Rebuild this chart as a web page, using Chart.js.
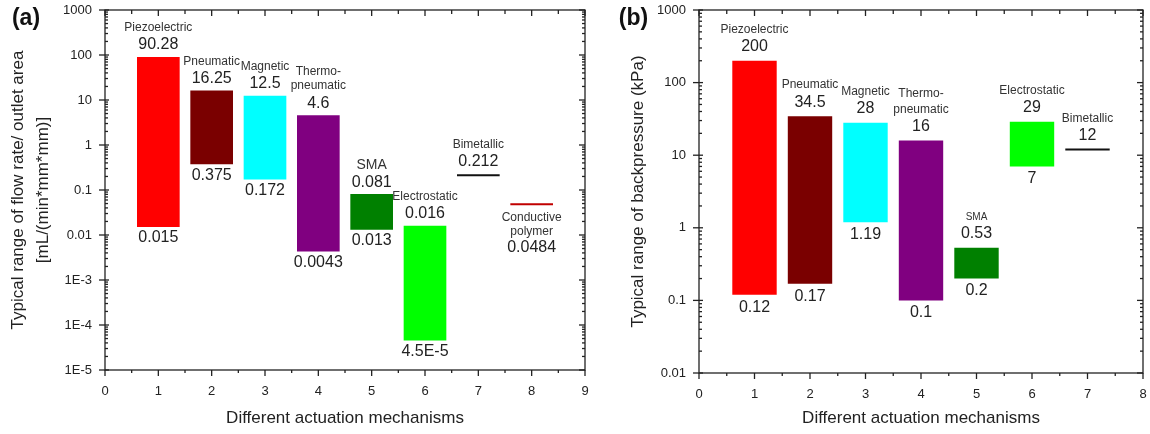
<!DOCTYPE html>
<html><head><meta charset="utf-8">
<script src="https://cdn.jsdelivr.net/npm/chart.js@4.4.1/dist/chart.umd.min.js"></script>
<style>
html,body{margin:0;padding:0;background:#fff;}
#wrap{position:relative;width:1150px;height:434px;overflow:hidden;background:#fff;}
#ca{position:absolute;left:0;top:0;}
#cb{position:absolute;left:600px;top:0;}
</style></head><body>
<div id="wrap"><canvas id="ca" width="600" height="434"></canvas><canvas id="cb" width="550" height="434"></canvas></div>
<script>
// ---------- DATA: panel (a) flow rate per outlet area ----------
const mechanismsA = ['Piezoelectric','Pneumatic','Magnetic','Thermo-\npneumatic','SMA','Electrostatic','Bimetallic','Conductive\npolymer'];
const positionsA  = [1,2,3,4,5,6,7,8];
const lowA        = [0.015,0.375,0.172,0.0043,0.013,4.5e-5,0.212,0.0484];
const highA       = [90.28,16.25,12.5,4.6,0.081,0.016,0.212,0.0484];
const xTicksA     = [0,1,2,3,4,5,6,7,8,9];
const yTicksA     = [1e-5,1e-4,1e-3,0.01,0.1,1,10,100,1000];
const yTickLabelsA= ['1E-5','1E-4','1E-3','0.01','0.1','1','10','100','1000'];

// ---------- DATA: panel (b) backpressure ----------
const mechanismsB = ['Piezoelectric','Pneumatic','Magnetic','Thermo-\npneumatic','SMA','Electrostatic','Bimetallic'];
const positionsB  = [1,2,3,4,5,6,7];
const lowB        = [0.12,0.17,1.19,0.1,0.2,7,12];
const highB       = [200,34.5,28,16,0.53,29,12];
const xTicksB     = [0,1,2,3,4,5,6,7,8];
const yTicksB     = [0.01,0.1,1,10,100,1000];
const yTickLabelsB= ['0.01','0.1','1','10','100','1000'];

// ---------- STYLES ----------
const FONT = "'Liberation Sans', Arial, sans-serif";
Chart.defaults.font.family = FONT;
const colorsA = ['#ff0000','#7a0000','#00ffff','#800080','#008000','#00ff00','#111111','#c00000'];
const colorsB = ['#ff0000','#7a0000','#00ffff','#800080','#008000','#00ff00','#111111'];
const MARK_HALF = 0.4;
const labelsBelow = ['Conductive\npolymer'];

function fmt(v){
  if (v < 1e-3) { const e = Math.floor(Math.log10(v)); const m = +(v/Math.pow(10,e)).toPrecision(3); return m + 'E' + e; }
  return String(v);
}

const framePlugin = {
  id: 'frame',
  afterDraw(chart, args, o) {
    const {ctx, chartArea: a, scales: {x, y}} = chart;
    ctx.save();
    ctx.strokeStyle = '#222'; ctx.lineWidth = 1.3; ctx.lineCap = 'butt';
    const ln = (x1,y1,x2,y2)=>{ctx.beginPath();ctx.moveTo(x1,y1);ctx.lineTo(x2,y2);ctx.stroke();};
    ctx.strokeRect(a.left, a.top, a.right-a.left, a.bottom-a.top);
    for (let v = x.min; v <= x.max + 1e-9; v += 0.5) {
      const px = x.getPixelForValue(v);
      const major = Math.abs(v - Math.round(v)) < 1e-9;
      ln(px, a.bottom, px, a.bottom + (major ? 6 : 3));
      ln(px, a.top, px, a.top + (major ? 6 : 4));
    }
    const k0 = Math.round(Math.log10(y.min)), k1 = Math.round(Math.log10(y.max));
    for (let k = k0; k <= k1; k++) {
      const py = y.getPixelForValue(Math.pow(10,k));
      ln(a.left - 6, py, a.left + 4, py);
      ln(a.right - 6, py, a.right, py);
      if (k < k1) for (let m = 2; m <= 9; m++) {
        const pm = y.getPixelForValue(m*Math.pow(10,k));
        ln(a.left, pm, a.left + 3, pm);
        ln(a.right - 3, pm, a.right, pm);
      }
    }
    ctx.fillStyle = '#111'; ctx.font = 'bold 23px ' + FONT;
    ctx.textAlign = 'center'; ctx.textBaseline = 'middle';
    ctx.fillText(o.letter, o.letterX, 19);
    ctx.restore();
  }
};

const labelPlugin = {
  id: 'rangeLabels',
  afterDatasetsDraw(chart, args, o) {
    const {ctx, scales: {x, y}} = chart;
    ctx.save();
    ctx.textAlign = 'center'; ctx.textBaseline = 'middle';
    o.names.forEach((name, i) => {
      const px = x.getPixelForValue(o.positions[i]);
      const pTop = y.getPixelForValue(o.highs[i]);
      const pLow = y.getPixelForValue(o.lows[i]);
      const lines = name.split('\n');
      const nf = (o.nameSize[name] || 12) + 'px ' + FONT;
      const vf = '16px ' + FONT;
      const isLine = o.lows[i] === o.highs[i];
      if (labelsBelow.includes(name)) {
        let cy = pTop + 14;
        ctx.font = nf; ctx.fillStyle = '#333';
        lines.forEach(l => { ctx.fillText(l, px, cy); cy += o.nameLH; });
        ctx.font = vf; ctx.fillStyle = '#222';
        ctx.fillText(fmt(o.highs[i]), px, cy + 1);
        return;
      }
      const vy = pTop - (isLine ? 14 : o.valueGap);
      ctx.font = vf; ctx.fillStyle = '#222';
      ctx.fillText(fmt(o.highs[i]), px, vy);
      ctx.font = nf; ctx.fillStyle = '#333';
      let ny = vy - 17;
      for (let j = lines.length - 1; j >= 0; j--) { ctx.fillText(lines[j], px, ny); ny -= o.nameLH; }
      if (!isLine) {
        ctx.font = vf; ctx.fillStyle = '#222';
        ctx.fillText(fmt(o.lows[i]), px, pLow + o.lowGap);
      }
    });
    ctx.restore();
  }
};

function makeChart(id, c) {
  const bars = [], barColors = [], lineSets = [];
  c.positions.forEach((p, i) => {
    if (c.lows[i] !== c.highs[i]) { bars.push({x: p, y: [c.lows[i], c.highs[i]]}); barColors.push(c.colors[i]); }
    else lineSets.push({type: 'line', data: [{x: p - MARK_HALF, y: c.lows[i]}, {x: p + MARK_HALF, y: c.lows[i]}],
      borderColor: c.colors[i], borderWidth: 2, pointRadius: 0, fill: false});
  });
  return new Chart(document.getElementById(id), {
    type: 'bar',
    data: {datasets: [{type: 'bar', data: bars, backgroundColor: barColors, barPercentage: 0.8, categoryPercentage: 1, borderWidth: 0}, ...lineSets]},
    options: {
      responsive: false, animation: false, devicePixelRatio: 1,
      layout: {padding: c.padding},
      plugins: {
        legend: {display: false}, tooltip: {enabled: false},
        frame: {letter: c.letter, letterX: c.letterX},
        rangeLabels: {names: c.names, positions: c.positions, lows: c.lows, highs: c.highs,
          valueGap: c.valueGap, lowGap: c.lowGap, nameLH: c.nameLH, nameSize: c.nameSize}
      },
      scales: {
        x: {type: 'linear', offset: false, min: c.xTicks[0], max: c.xTicks[c.xTicks.length-1],
          afterBuildTicks: s => { s.ticks = c.xTicks.map(v => ({value: v})); },
          ticks: {padding: 14, font: {size: 13}, color: '#222', autoSkip: false, maxRotation: 0},
          grid: {display: false, drawTicks: false, offset: false}, border: {display: false},
          title: {display: true, text: 'Different actuation mechanisms', font: {size: 17}, color: '#222', padding: {top: 0, bottom: 5.8}},
          afterFit: s => { s.height = c.xAxisH; s.paddingLeft = 0; s.paddingRight = 0; }},
        y: {type: 'logarithmic', min: c.yTicks[0], max: c.yTicks[c.yTicks.length-1],
          afterBuildTicks: s => { s.ticks = c.yTicks.map(v => ({value: v, major: true})); },
          ticks: {padding: 13, font: {size: 13}, color: '#222', autoSkip: false,
            callback: v => { const k = c.yTicks.indexOf(v); return k >= 0 ? c.yTickLabels[k] : ''; }},
          grid: {display: false, drawTicks: false}, border: {display: false},
          title: {display: true, text: c.yTitle, font: {size: 17, lineHeight: c.yTitleLH}, color: '#222', padding: {top: c.yTitlePad, bottom: 0}},
          afterFit: s => { s.width = c.yAxisW; s.paddingTop = 0; s.paddingBottom = 0; }}
      }
    },
    plugins: [framePlugin, labelPlugin]
  });
}

makeChart('ca', {
  names: mechanismsA, positions: positionsA, lows: lowA, highs: highA, colors: colorsA,
  xTicks: xTicksA, yTicks: yTicksA, yTickLabels: yTickLabelsA,
  yTitle: ['Typical range of flow rate/ outlet area', '[mL/(min*mm*mm)]'], yTitleLH: 1.47, yTitlePad: 5.5,
  padding: {left: 0, top: 10, right: 15, bottom: 0}, yAxisW: 105, xAxisH: 64,
  letter: '(a)', letterX: 26, valueGap: 12, lowGap: 11, nameLH: 14, nameSize: {'SMA': 14}
});
makeChart('cb', {
  names: mechanismsB, positions: positionsB, lows: lowB, highs: highB, colors: colorsB,
  xTicks: xTicksB, yTicks: yTicksB, yTickLabels: yTickLabelsB,
  yTitle: 'Typical range of backpressure (kPa)', yTitleLH: 1.2, yTitlePad: 28.3,
  padding: {left: 0, top: 10, right: 7, bottom: 0}, yAxisW: 99, xAxisH: 61,
  letter: '(b)', letterX: 33.5, valueGap: 14, lowGap: 12.5, nameLH: 16, nameSize: {'SMA': 10}
});
</script>
</body></html>
